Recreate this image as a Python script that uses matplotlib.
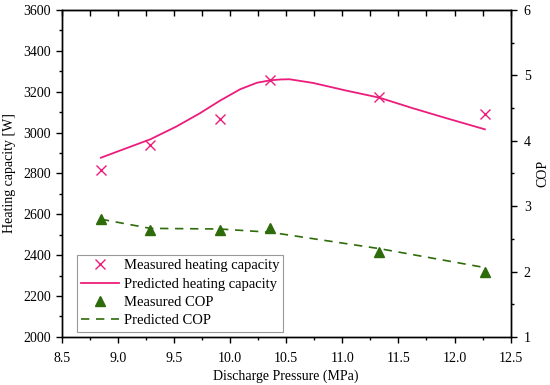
import matplotlib
matplotlib.use("Agg")
import matplotlib.pyplot as plt
from matplotlib.ticker import MultipleLocator

plt.rcParams['font.family'] = ['Liberation Serif', 'DejaVu Serif']
plt.rcParams['font.size'] = 10

# Measured data
pressure = [8.85, 9.29, 9.91, 10.36, 11.33, 12.27]
heat_meas = [2817, 2938, 3067, 3256, 3173, 3093]
cop_meas = [2.81, 2.63, 2.63, 2.66, 2.30, 1.99]

# Predicted curves
pred_p = [8.85, 9.05, 9.29, 9.52, 9.73, 9.91, 10.09, 10.24, 10.36, 10.45, 10.53,
          10.74, 11.04, 11.33, 11.63, 11.93, 12.27]
heat_pred = [2877, 2918, 2967, 3029, 3094, 3156, 3212, 3244, 3256, 3260, 3261,
             3243, 3205, 3171, 3119, 3070, 3016]
cop_pred_p = [8.85, 9.29, 9.91, 10.36, 11.33, 12.27]
cop_pred = [2.80, 2.66, 2.65, 2.60, 2.35, 2.06]

pink = '#EC1C7C'
green = '#2E6B0A'

fig = plt.figure(figsize=(5.5, 3.85), dpi=100)
ax = fig.add_axes([0.112, 0.125, 0.8165, 0.849])
ax2 = ax.twinx()

h1, = ax.plot(pressure, heat_meas, linestyle='none', marker='x', color=pink,
              markersize=7, markeredgewidth=1.0, label='Measured heating capacity')
h2, = ax.plot(pred_p, heat_pred, color=pink, linewidth=1.3, label='Predicted heating capacity')
h3, = ax2.plot(pressure, cop_meas, linestyle='none', marker='^', color=green,
               markersize=7, label='Measured COP')
h4, = ax2.plot(cop_pred_p, cop_pred, color=green, linewidth=1.2, linestyle=(0, (5, 4)),
               label='Predicted COP')

ax.set_xlim(8.5, 12.5)
ax.set_ylim(2000, 3600)
ax2.set_ylim(1, 6)
ax.xaxis.set_major_locator(MultipleLocator(0.5))
ax.xaxis.set_minor_locator(MultipleLocator(0.25))
ax.yaxis.set_major_locator(MultipleLocator(200))
ax.yaxis.set_minor_locator(MultipleLocator(100))
ax2.yaxis.set_major_locator(MultipleLocator(1))
ax2.yaxis.set_minor_locator(MultipleLocator(0.5))

ax.tick_params(axis='both', which='major', direction='out', length=4, width=1)
ax.tick_params(axis='both', which='minor', direction='out', length=2.5, width=1)
ax.tick_params(axis='x', which='major', pad=7)
ax.tick_params(axis='x', which='both', top=False)
ax2.tick_params(axis='y', which='major', direction='out', length=4.5, width=1, pad=5)
ax2.tick_params(axis='y', which='minor', direction='out', length=2.5, width=1)

# top ticks inward
sec = ax.secondary_xaxis('top')
sec.xaxis.set_major_locator(MultipleLocator(0.25))
sec.tick_params(direction='in', length=4, width=1, labeltop=False)
sec.xaxis.set_ticklabels([])

for a in (ax, ax2):
    for s in a.spines.values():
        s.set_linewidth(1.0)

ax.set_xlabel('Discharge Pressure (MPa)', labelpad=3)
ax.set_ylabel('Heating capacity [W]', labelpad=5)
ax2.set_ylabel('COP', labelpad=4)

leg = ax.legend(handles=[h1, h2, h3, h4], loc='lower left',
                bbox_to_anchor=(0.034, 0.016), frameon=True, fancybox=False,
                edgecolor='#999999', framealpha=1, borderaxespad=0,
                handlelength=2.6, handletextpad=0.3, labelspacing=0.35,
                borderpad=0.3, fontsize=10.5)
leg.get_frame().set_linewidth(0.8)

fig.savefig('out.png', dpi=100)
